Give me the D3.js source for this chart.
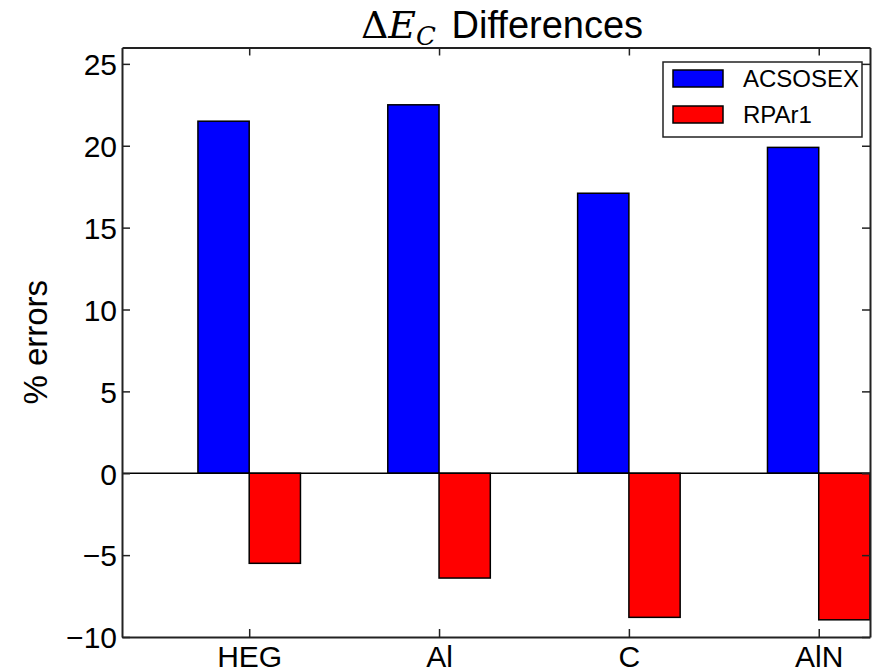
<!DOCTYPE html>
<html>
<head>
<meta charset="utf-8">
<script src="https://cdn.jsdelivr.net/npm/d3@7"></script>
<style>
  body { margin: 0; background: #fff; }
  text { font-family: "Liberation Sans", Arial, sans-serif; fill: #000; }
</style>
</head>
<body>
<div id="container"></div>
<script>
/* DATA */
const categories = ["HEG", "Al", "C", "AlN"];
const acsosex = [21.5, 22.5, 17.1, 19.9];
const rpar1 = [-5.5, -6.4, -8.8, -8.95];
const seriesNames = ["ACSOSEX", "RPAr1"];
const seriesColors = ["#0000ff", "#ff0000"];
const yTicks = [-10, -5, 0, 5, 10, 15, 20, 25];

/* CONSTANTS */
const width = 874, height = 672;
const margin = { left: 122, top: 47.5, right: 4, bottom: 35 };
const barW = 0.27;

const svg = d3.select("#container").append("svg")
  .attr("width", width).attr("height", height);

// SCALES
const xScale = d3.scaleLinear()
  .domain([-0.4, 3 + 2 * barW])
  .range([margin.left, width - margin.right]);
const yScale = d3.scaleLinear()
  .domain([-10, 26])
  .range([height - margin.bottom, margin.top]);

// BARS
const series = [acsosex, rpar1];
series.forEach((vals, s) => {
  svg.append("g").selectAll("rect")
    .data(vals)
    .join("rect")
    .attr("x", (d, i) => xScale(i + s * barW))
    .attr("width", xScale(barW) - xScale(0))
    .attr("y", d => yScale(Math.max(0, d)))
    .attr("height", d => Math.abs(yScale(d) - yScale(0)))
    .attr("fill", seriesColors[s])
    .attr("stroke", "#000")
    .attr("stroke-width", 1.5);
});

// zero line
svg.append("line")
  .attr("x1", xScale.range()[0]).attr("x2", xScale.range()[1])
  .attr("y1", yScale(0)).attr("y2", yScale(0))
  .attr("stroke", "#000").attr("stroke-width", 1.5);

// AXES (ticks inward, on all four sides)
const tickLen = 8;
const xTickPos = categories.map((c, i) => i + barW);

const gLeft = svg.append("g").attr("transform", `translate(${margin.left},0)`)
  .call(d3.axisLeft(yScale).tickValues(yTicks).tickSizeInner(-tickLen).tickSizeOuter(0)
    .tickPadding(5).tickFormat(d => d < 0 ? "\u2212" + Math.abs(d) : d));
const gRight = svg.append("g").attr("transform", `translate(${width - margin.right},0)`)
  .call(d3.axisRight(yScale).tickValues(yTicks).tickSizeInner(-tickLen).tickSizeOuter(0).tickFormat(""));
const gBottom = svg.append("g").attr("transform", `translate(0,${height - margin.bottom})`)
  .call(d3.axisBottom(xScale).tickValues(xTickPos).tickSizeInner(-tickLen).tickSizeOuter(0)
    .tickPadding(8).tickFormat((d, i) => categories[i]));
const gTop = svg.append("g").attr("transform", `translate(0,${margin.top})`)
  .call(d3.axisTop(xScale).tickValues(xTickPos).tickSizeInner(-tickLen).tickSizeOuter(0).tickFormat(""));

[gLeft, gRight, gBottom, gTop].forEach(g => {
  g.select(".domain").attr("stroke", "#222").attr("stroke-width", 2);
  g.selectAll(".tick line").attr("stroke", "#222").attr("stroke-width", 1.5);
  g.selectAll(".tick text")
    .style("font-family", '"Liberation Sans", Arial, sans-serif')
    .style("font-size", "30px").attr("fill", "#000");
});
gBottom.selectAll(".tick text").attr("dy", "0.72em");
gLeft.selectAll(".tick text").attr("dy", "0.36em");

// AXIS LABEL
svg.append("text")
  .attr("transform", `translate(47,${(yScale.range()[0] + yScale.range()[1]) / 2}) rotate(-90)`)
  .attr("text-anchor", "middle")
  .style("font-size", "33px")
  .text("% errors");

// TITLE
const title = svg.append("text")
  .attr("x", 502)
  .attr("y", 38)
  .attr("text-anchor", "middle")
  .style("font-size", "38px");
title.append("tspan").style("font-family", '"DejaVu Serif", serif').text("\u0394");
title.append("tspan").style("font-family", '"DejaVu Serif", serif').style("font-style", "italic").text("E");
title.append("tspan").style("font-family", '"DejaVu Serif", serif').style("font-style", "italic")
  .style("font-size", "26px").attr("dy", 7).text("C");
title.append("tspan").attr("dy", -7).attr("dx", 5).text(" Differences");

// LEGEND
const legend = svg.append("g").attr("transform", "translate(663,62)");
legend.append("rect")
  .attr("width", 199).attr("height", 75)
  .attr("fill", "#fff").attr("stroke", "#222").attr("stroke-width", 1.5);
seriesNames.forEach((name, i) => {
  const row = legend.append("g").attr("transform", `translate(0,${8 + i * 36})`);
  row.append("rect")
    .attr("x", 10).attr("width", 50).attr("height", 17)
    .attr("fill", seriesColors[i]).attr("stroke", "#000").attr("stroke-width", 1.5);
  row.append("text")
    .attr("x", 80).attr("y", 17)
    .style("font-size", "24px")
    .text(name);
});
</script>
</body>
</html>
